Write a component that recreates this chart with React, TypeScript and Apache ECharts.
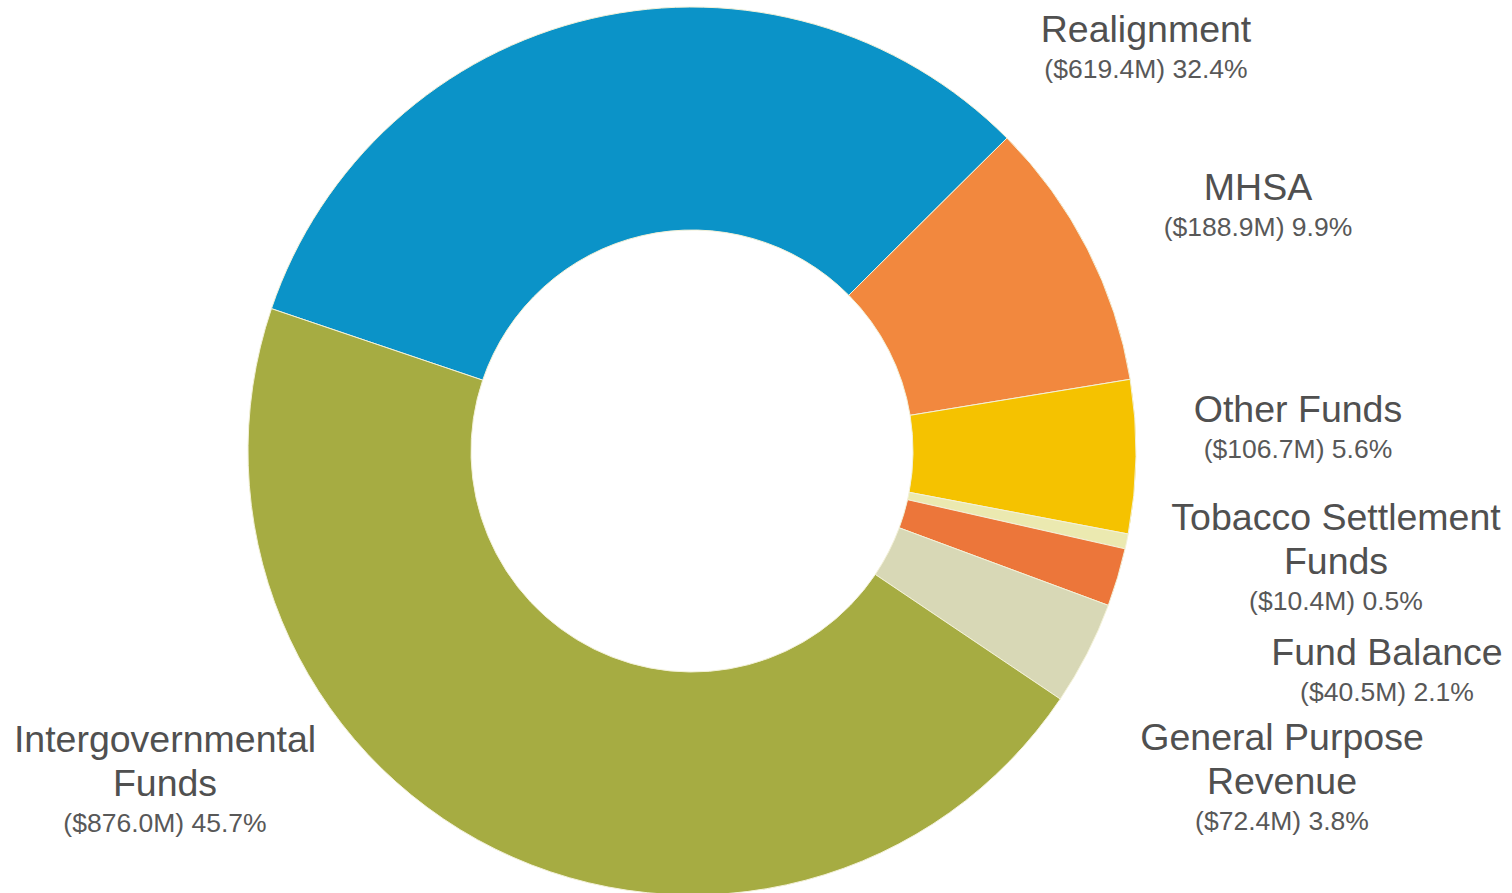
import React, { useEffect, useRef } from "react";
import * as echarts from "echarts";

const categories = [
  "Realignment",
  "MHSA",
  "Other Funds",
  "Tobacco Settlement\nFunds",
  "Fund Balance",
  "General Purpose\nRevenue",
  "Intergovernmental\nFunds",
];
const valuesM = [619.4, 188.9, 106.7, 10.4, 40.5, 72.4, 876.0];
const percents = ["32.4%", "9.9%", "5.6%", "0.5%", "2.1%", "3.8%", "45.7%"];
const colors = ["#0b93c8", "#f2883e", "#f5c200", "#ebe9b0", "#ec763a", "#d8d8b6", "#a6ac42"];
// label anchor (center x, top y) per slice
const labelPos: [number, number][] = [
  [1146, 7],
  [1258, 165],
  [1298, 387],
  [1336, 495],
  [1387, 630],
  [1282, 715],
  [165, 717],
];

export default function App() {
  const ref = useRef<HTMLDivElement>(null);
  useEffect(() => {
    if (!ref.current) return;
    const chart = echarts.init(ref.current, undefined, { renderer: "svg" });
    const data = categories.map((name, i) => ({
      name,
      value: valuesM[i],
      itemStyle: { color: colors[i] },
    }));
    chart.setOption({
      animation: false,
      backgroundColor: "#ffffff",
      series: [
        {
          type: "pie",
          center: [692, 451],
          radius: [221, 444],
          startAngle: 161.3,
          clockwise: true,
          avoidLabelOverlap: false,
          data,
          itemStyle: { borderColor: "#f3f1d8", borderWidth: 1 },
          labelLine: { show: false },
          label: {
            show: true,
            position: "outside",
            fontFamily: "Liberation Sans, Arial, sans-serif",
            formatter: (p: any) => {
              const i = p.dataIndex;
              const lines = String(p.name)
                .split("\n")
                .map((l: string) => `{n|${l}}`)
                .join("\n");
              return `${lines}\n{s|($${valuesM[i].toFixed(1)}M) ${percents[i]}}`;
            },
            rich: {
              n: {
                fontSize: 37.5,
                lineHeight: 44,
                color: "#505050",
                fontFamily: "Liberation Sans, Arial, sans-serif",
                align: "center",
              },
              s: {
                fontSize: 26.5,
                lineHeight: 36,
                color: "#585858",
                fontFamily: "Liberation Sans, Arial, sans-serif",
                align: "center",
              },
            },
          },
          labelLayout: (params: any) => {
            const pos = labelPos[params.dataIndex];
            return {
              x: pos[0],
              y: pos[1],
              align: "center",
              verticalAlign: "top",
            };
          },
          emphasis: { disabled: true },
        },
      ],
    });
    return () => chart.dispose();
  }, []);
  return (
    <div
      ref={ref}
      style={{ position: "fixed", left: 0, top: 0, width: 1512, height: 893 }}
    />
  );
}
